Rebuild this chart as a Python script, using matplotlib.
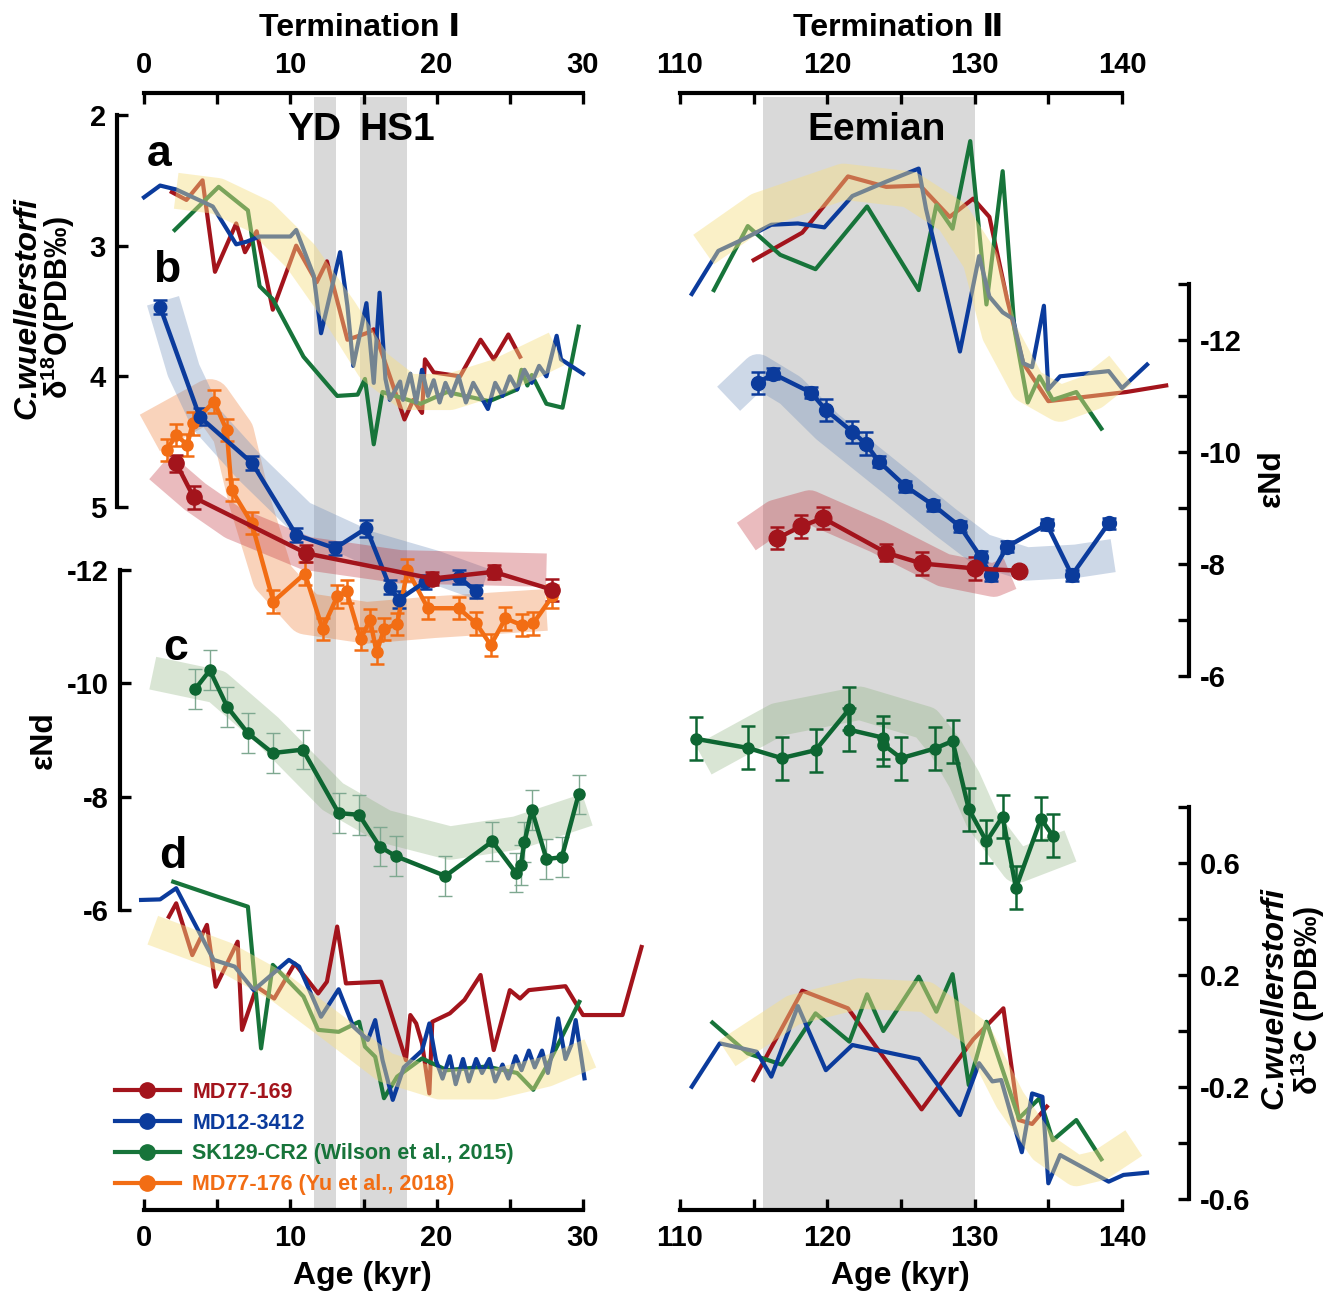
import matplotlib
matplotlib.use('Agg')
import matplotlib.pyplot as plt
from matplotlib.lines import Line2D

plt.rcParams['font.family'] = ['Liberation Sans', 'DejaVu Sans']
plt.rcParams['font.weight'] = 'bold'
plt.rcParams['axes.unicode_minus'] = False
plt.rcParams['mathtext.fontset'] = 'custom'
plt.rcParams['mathtext.rm'] = 'Liberation Sans:bold'
plt.rcParams['mathtext.bf'] = 'Liberation Sans:bold'

# ---------------- data ----------------
# (a) C. wuellerstorfi d18O, Termination I
a169_t1_age = [1.9, 2.9, 4.0, 4.85, 6.3, 6.9, 7.7, 8.8, 10.4, 11.8, 12.5, 13.9, 15.2, 15.7, 16.8,
               17.8, 18.4, 19.0, 19.2, 19.8, 21.6, 23.0, 23.9, 24.9, 25.7]
a169_t1_val = [2.59, 2.65, 2.50, 3.20, 2.83, 3.05, 2.89, 3.49, 3.00, 3.28, 3.12, 3.72, 3.67, 3.64, 4.00,
               4.33, 4.18, 4.28, 3.87, 3.97, 4.00, 3.72, 3.87, 3.68, 3.85]
a3412_t1_age = [0.0, 1.1, 2.2, 4.7, 6.3, 7.0, 7.9, 10.0, 10.4, 11.6, 12.1, 13.4, 13.9, 14.3, 15.2,
                15.7, 16.1, 16.5, 16.8, 17.5, 17.7, 18.2, 18.6, 19.0, 19.4, 19.8, 20.2, 20.6, 21.0,
                21.5, 22.0, 22.5, 23.0, 23.5, 24.0, 24.5, 25.0, 25.5, 26.0, 26.5, 27.0, 27.5, 28.2,
                28.5, 30.0]
a3412_t1_val = [2.63, 2.54, 2.57, 2.70, 2.99, 2.97, 2.93, 2.93, 2.88, 3.23, 3.67, 3.05, 3.46, 3.92, 3.44,
                4.05, 3.36, 4.02, 4.18, 4.04, 4.18, 3.98, 4.20, 3.95, 4.15, 4.03, 4.20, 4.05, 4.15,
                4.00, 4.20, 4.05, 4.15, 4.25, 4.05, 4.15, 4.00, 4.10, 3.95, 4.05, 3.92, 4.00, 3.69,
                3.87, 3.98]
aSK_t1_age = [2.1, 5.1, 7.1, 7.9, 8.8, 10.9, 13.2, 14.6, 15.1, 15.7, 16.3, 18.9, 20.7, 23.6, 25.5,
              25.8, 26.2, 26.5, 27.5, 28.6, 29.7]
aSK_t1_val = [2.88, 2.55, 2.73, 3.31, 3.41, 3.85, 4.15, 4.14, 4.02, 4.52, 4.12, 4.21, 4.12, 4.19, 4.10,
              3.95, 4.07, 3.99, 4.21, 4.24, 3.62]
a_band_t1_age = [2.2, 5.0, 8.0, 10.7, 13.4, 15.7, 18.0, 20.9, 24.3, 28.2]
a_band_t1_val = [2.58, 2.62, 2.78, 3.08, 3.51, 3.92, 4.12, 4.12, 4.00, 3.79]

# (a) Termination II
a169_t2_age = [115.0, 118.3, 121.4, 124.0, 126.3, 128.3, 129.9, 131.0, 132.2, 133.3, 135.0, 140.3, 143.0]
a169_t2_val = [3.11, 2.90, 2.47, 2.55, 2.54, 2.78, 2.64, 2.78, 3.41, 3.90, 4.19, 4.12, 4.07]
a3412_t2_age = [110.8, 112.6, 114.3, 116.2, 118.0, 119.8, 121.7, 124.0, 126.2, 126.7, 129.0, 130.3,
                131.0, 131.9, 132.6, 133.3, 133.9, 134.7, 135.0, 135.8, 139.1, 140.0, 141.7]
a3412_t2_val = [3.37, 3.04, 2.95, 2.84, 2.83, 2.86, 2.62, 2.51, 2.41, 2.72, 3.81, 3.08,
                3.39, 3.51, 3.56, 3.90, 3.93, 3.46, 4.10, 4.00, 3.96, 4.09, 3.91]
aSK_t2_age = [112.3, 114.6, 116.8, 119.2, 122.7, 126.2, 127.4, 128.5, 129.7, 130.8, 131.9, 132.7,
              133.6, 134.4, 135.3, 136.9, 138.6]
aSK_t2_val = [3.34, 2.85, 3.07, 3.18, 2.70, 3.34, 2.69, 2.87, 2.20, 3.45, 2.43, 3.64,
              4.20, 4.00, 4.18, 4.12, 4.40]
a_band_t2_age = [111.6, 115.4, 121.1, 125.6, 128.5, 130.4, 131.7, 133.6, 135.8, 138.0, 139.9]
a_band_t2_val = [3.03, 2.73, 2.51, 2.57, 2.78, 3.11, 3.67, 4.07, 4.21, 4.12, 3.95]

# (b) eNd, MD77-169 / MD12-3412 / MD77-176
b3412_t1_age = [1.1, 3.8, 7.4, 10.4, 13.05, 15.2, 16.8, 17.4, 19.2, 21.5, 22.7]
b3412_t1_val = [-12.59, -10.63, -9.80, -8.52, -8.28, -8.64, -7.59, -7.36, -7.68, -7.77, -7.51]
b3412_t1_err = [0.12, 0.15, 0.12, 0.12, 0.12, 0.15, 0.12, 0.15, 0.12, 0.12, 0.12]
b169_t1_age = [2.2, 3.4, 11.1, 19.7, 23.9, 27.9]
b169_t1_val = [-9.80, -9.19, -8.19, -7.74, -7.86, -7.54]
b169_t1_err = [0.15, 0.2, 0.15, 0.12, 0.12, 0.2]
b176_t1_age = [1.55, 2.2, 2.96, 3.33, 4.78, 5.65, 5.99, 7.36, 8.84, 11.0, 12.2, 13.2, 13.85, 14.8,
               15.45, 15.9, 16.4, 17.3, 18.0, 19.4, 21.5, 22.7, 23.7, 24.7, 25.8, 26.6, 27.9]
b176_t1_val = [-10.04, -10.30, -10.13, -10.51, -10.90, -10.39, -9.32, -8.73, -7.33, -7.83, -6.84,
               -7.42, -7.51, -6.66, -7.00, -6.42, -6.84, -6.93, -7.89, -7.21, -7.21, -6.94, -6.55,
               -7.03, -6.91, -6.94, -7.42]
b176_t1_err = [0.2] * 27
b3412_band_t1_age = [1.3, 2.7, 4.3, 7.2, 10.7, 15.2, 19.8, 23.2]
b3412_band_t1_val = [-12.7, -11.46, -10.57, -9.73, -8.84, -8.30, -7.95, -7.63]
b169_band_t1_age = [1.1, 3.5, 6.1, 11.1, 17.5, 27.5]
b169_band_t1_val = [-9.74, -9.2, -8.73, -8.19, -7.95, -7.89]
b176_band_t1_age = [0.4, 4.5, 6.1, 7.2, 8.8, 11.1, 15.2, 19.8, 27.5]
b176_band_t1_val = [-10.34, -10.93, -10.34, -9.14, -7.77, -7.11, -6.95, -7.05, -7.18]

b3412_t2_age = [115.3, 116.3, 118.9, 119.9, 121.7, 122.6, 123.5, 125.3, 127.2, 129.0, 130.4, 131.1,
                132.2, 134.9, 136.6, 139.1]
b3412_t2_val = [-11.23, -11.40, -11.06, -10.75, -10.36, -10.15, -9.83, -9.39, -9.05, -8.67, -8.13,
                -7.80, -8.31, -8.71, -7.80, -8.73]
b3412_t2_err = [0.2, 0.1, 0.1, 0.2, 0.2, 0.2, 0.1, 0.1, 0.1, 0.1, 0.1, 0.1, 0.1, 0.1, 0.1, 0.1]
b169_t2_age = [116.6, 118.2, 119.7, 124.0, 126.4, 130.0, 133.0]
b169_t2_val = [-8.46, -8.67, -8.82, -8.20, -8.01, -7.92, -7.88]
b169_t2_err = [0.2, 0.2, 0.2, 0.15, 0.2, 0.2, 0.05]
b3412_band_t2_age = [113.3, 115.3, 117.5, 120.0, 124.5, 128.0, 130.5, 133.5, 136.9, 139.4]
b3412_band_t2_val = [-10.95, -11.45, -11.1, -10.45, -9.5, -8.75, -8.25, -8.0, -8.05, -8.15]
b169_band_t2_age = [114.5, 116.5, 118.8, 123.4, 127.9, 131.3, 132.4]
b169_band_t2_val = [-8.49, -8.85, -9.02, -8.49, -7.89, -7.71, -7.83]

# (c) eNd, SK129-CR2 (Wilson et al., 2015)
cSK_t1_age = [3.5, 4.5, 5.7, 7.1, 8.8, 10.85, 13.3, 14.7, 16.1, 17.2, 20.6, 23.8, 25.4, 25.75, 26.0,
              26.5, 27.5, 28.55, 29.7]
cSK_t1_val = [-9.90, -10.23, -9.58, -9.12, -8.77, -8.83, -7.71, -7.68, -7.12, -6.95, -6.60, -7.21,
              -6.66, -6.80, -7.20, -7.77, -6.90, -6.93, -8.04]
cSK_t1_err = [0.35] * 19
c_band_t1_age = [0.6, 5.0, 8.4, 12.9, 16.4, 20.9, 25.5, 30.3]
c_band_t1_val = [-10.18, -9.94, -9.18, -8.0, -7.48, -7.18, -7.36, -7.77]
cSK_t2_age = [111.1, 114.6, 116.9, 119.2, 121.5, 121.5, 123.8, 123.8, 125.0, 127.3, 128.5, 129.6,
              130.8, 131.9, 132.8, 134.5, 135.3]
cSK_t2_val = [-9.02, -8.86, -8.68, -8.82, -9.55, -9.18, -9.04, -8.92, -8.68, -8.85, -8.98, -7.78,
              -7.21, -7.65, -6.39, -7.61, -7.31]
cSK_t2_err = [0.38] * 17
c_band_t2_age = [111.6, 116.6, 122.2, 126.7, 128.0, 129.3, 130.5, 132.9, 136.5]
c_band_t2_val = [-8.65, -9.36, -9.65, -9.30, -8.88, -8.3, -7.6, -6.77, -7.13]

# (d) C. wuellerstorfi d13C
d169_t1_age = [1.7, 2.2, 3.3, 4.3, 4.9, 6.4, 6.7, 7.7, 8.9, 10.3, 11.9, 12.5, 13.2, 13.8, 16.2, 17.9,
               18.2, 18.6, 19.0, 19.5, 19.7, 20.9, 21.9, 23.0, 23.9, 25.0, 25.7, 26.3, 28.8, 30.0,
               32.7, 34.0]
d169_t1_val = [0.408, 0.456, 0.271, 0.379, 0.158, 0.319, 0.004, 0.158, 0.116, 0.241, 0.134, 0.176,
               0.373, 0.17, 0.176, -0.104, 0.057, 0.027, -0.044, -0.223, 0.033, 0.063, 0.111, 0.2,
               -0.068, 0.146, 0.116, 0.146, 0.16, 0.057, 0.057, 0.30]
d3412_t1_age = [-0.2, 1.1, 2.2, 4.76, 6.2, 7.5, 9.9, 10.6, 12.1, 13.3, 14.3, 15.3, 15.8, 16.3, 17.0,
                17.75, 19.0, 19.5, 19.95, 20.4, 20.9, 21.3, 21.8, 22.2, 22.7, 23.1, 23.6, 24.0, 24.5,
                24.9, 25.4, 25.8, 26.3, 26.7, 27.2, 27.6, 28.0, 28.3, 28.8, 29.2, 29.5, 30.1]
d3412_t1_val = [0.468, 0.47, 0.51, 0.254, 0.23, 0.146, 0.254, 0.23, 0.051, 0.149, 0.016, -0.032,
                0.039, -0.104, -0.246, -0.13, -0.07, 0.027, -0.104, -0.17, -0.09, -0.19, -0.1,
                -0.18, -0.1, -0.15, -0.1, -0.18, -0.12, -0.17, -0.09, -0.14, -0.07, -0.13, -0.07,
                -0.15, -0.05, 0.045, -0.1, -0.05, 0.039, -0.169]
dSK_t1_age = [2.0, 5.0, 7.1, 8.0, 8.8, 10.9, 11.9, 13.3, 14.7, 15.1, 15.8, 16.4, 17.3, 19.0, 20.7,
              23.4, 25.5, 26.6, 27.8, 29.75]
dSK_t1_val = [0.533, 0.48, 0.444, -0.062, 0.236, 0.123, 0.004, -0.003, 0.033, -0.056, -0.092, -0.24,
              -0.163, -0.098, -0.14, -0.127, -0.15, -0.21, -0.1, 0.104]
d_band_t1_age = [0.6, 5.5, 9.2, 12.85, 16.5, 20.2, 23.9, 27.5, 30.5]
d_band_t1_val = [0.36, 0.265, 0.158, 0.015, -0.13, -0.19, -0.19, -0.145, -0.08]

d169_t2_age = [115.0, 118.3, 121.4, 126.4, 129.9, 131.95, 133.0, 133.9, 134.9]
d169_t2_val = [-0.175, 0.144, 0.081, -0.28, -0.03, 0.081, -0.318, -0.332, -0.27]
d3412_t2_age = [110.8, 112.7, 115.2, 116.2, 118.0, 119.9, 121.7, 126.2, 129.0, 130.3, 131.2, 131.8,
                133.2, 133.9, 134.6, 135.0, 135.8, 139.1, 140.1, 141.7]
d3412_t2_val = [-0.199, -0.044, -0.074, -0.163, 0.089, -0.14, -0.05, -0.10, -0.30, -0.115, -0.18,
                -0.175, -0.433, -0.223, -0.235, -0.544, -0.443, -0.538, -0.514, -0.506]
dSK_t2_age = [112.2, 114.6, 116.9, 119.2, 121.5, 122.7, 123.8, 126.2, 127.4, 128.5, 129.6, 130.8,
              133.0, 134.4, 135.3, 136.9, 138.6]
dSK_t2_val = [0.03, -0.08, -0.12, 0.063, -0.038, 0.131, 0.0, 0.194, 0.069, 0.203, -0.193, 0.033,
              -0.312, -0.24, -0.39, -0.318, -0.458]
d_band_t2_age = [113.2, 117.7, 122.2, 126.7, 130.1, 132.4, 134.7, 136.9, 138.5, 140.8]
d_band_t2_val = [-0.08, 0.075, 0.134, 0.122, -0.008, -0.246, -0.42, -0.50, -0.48, -0.40]

events = {'YD': (11.6, 13.1), 'HS1': (14.75, 18.0), 'Eemian': (115.6, 130.0)}
legend_labels = ['MD77-169', 'MD12-3412', 'SK129-CR2 (Wilson et al., 2015)', 'MD77-176 (Yu et al., 2018)']

RED, BLUE, GREEN, ORANGE = '#a3141c', '#0b3b9c', '#17743a', '#f26d14'
DKGREEN = '#0e6632'
legend_colors = [RED, BLUE, GREEN, ORANGE]

# ---------------- layout helpers (pixel calibration) ----------------
W, H = 1337, 1297
fig = plt.figure(figsize=(W / 100, H / 100), dpi=100)
PY_TOP, PY_BOT = 20, 1275

XL = (144, 0, 583, 30)
XR = (680, 110, 1122, 140)
Y18 = (115, 2, 507, 5)
YNB = (340, -12, 676, -6)
YNC = (570, -12, 910, -6)
Y13 = (863, 0.6, 1199, -0.6)


def lin(p, cal):
    p0, v0, p1, v1 = cal
    return v0 + (p - p0) * (v1 - v0) / (p1 - p0)


def panel_ax(px0, px1, xcal, ycal):
    ax = fig.add_axes([px0 / W, 1 - PY_BOT / H, (px1 - px0) / W, (PY_BOT - PY_TOP) / H])
    ax.set_xlim(lin(px0, xcal), lin(px1, xcal))
    ax.set_ylim(lin(PY_BOT, ycal), lin(PY_TOP, ycal))
    ax.patch.set_visible(False)
    for s in ax.spines.values():
        s.set_visible(False)
    ax.tick_params(which='both', left=False, right=False, top=False, bottom=False,
                   labelleft=False, labelright=False, labeltop=False, labelbottom=False,
                   direction='in', length=8, width=2.4, labelsize=21, pad=8)
    return ax


axs = {}
for side, px0, px1, xcal in [('L', 95, 665, XL), ('R', 665, 1200, XR)]:
    for key, ycal in [('a', Y18), ('b', YNB), ('c', YNC), ('d', Y13)]:
        axs[key + side] = panel_ax(px0, px1, xcal, ycal)


def spine(ax, which, pos, lo, hi, ticks, labels):
    sp = ax.spines[which]
    sp.set_visible(True)
    sp.set_linewidth(3)
    sp.set_position(('data', pos))
    sp.set_bounds(lo, hi)
    sp.set_capstyle('projecting')
    if which in ('left', 'right'):
        ax.set_yticks(ticks)
        ax.set_yticklabels(labels)
        ax.tick_params(axis='y', **{which: True, 'label' + which: True})
    else:
        ax.set_xticks(ticks)
        ax.set_xticklabels(labels)
        ax.tick_params(axis='x', pad=10, **{which: True, 'label' + which: True})


t1_ticks = [0, 5, 10, 15, 20, 25, 30]
t1_labels = ['0', '', '10', '', '20', '', '30']
t2_ticks = [110, 115, 120, 125, 130, 135, 140]
t2_labels = ['110', '', '120', '', '130', '', '140']
spine(axs['aL'], 'top', lin(93, Y18), 0, 30, t1_ticks, t1_labels)
spine(axs['aR'], 'top', lin(93, Y18), 110, 140, t2_ticks, t2_labels)
spine(axs['dL'], 'bottom', lin(1210, Y13), 0, 30, t1_ticks, t1_labels)
spine(axs['dR'], 'bottom', lin(1210, Y13), 110, 140, t2_ticks, t2_labels)
spine(axs['aL'], 'left', lin(117, XL), 2, 5, [2, 3, 4, 5], ['2', '3', '4', '5'])
spine(axs['cL'], 'left', lin(120, XL), -12, -6, [-12, -10, -8, -6], ['-12', '-10', '-8', '-6'])
spine(axs['bR'], 'right', lin(1189, XR), -13, -6, list(range(-13, -5)),
      ['', '-12', '', '-10', '', '-8', '', '-6'])
spine(axs['dR'], 'right', lin(1189, XR), -0.6, 0.8, [-0.6, -0.4, -0.2, 0.0, 0.2, 0.4, 0.6, 0.8],
      ['-0.6', '', '-0.2', '', '0.2', '', '0.6', ''])

# event shading
for name, (x0, x1) in events.items():
    ax = axs['aL'] if x1 < 60 else axs['aR']
    ax.fill_between([x0, x1], lin(97, Y18), lin(1208, Y18), color='#d9d9d9', lw=0, zorder=0)


def band(ax, age, val, color, alpha, width, z):
    ax.plot(age, val, color=color, alpha=alpha, lw=width, solid_capstyle='butt',
            solid_joinstyle='round', zorder=z)


# (a)
for side, sets in [('L', [(a169_t1_age, a169_t1_val, RED), (aSK_t1_age, aSK_t1_val, GREEN),
                          (a3412_t1_age, a3412_t1_val, BLUE)]),
                   ('R', [(a169_t2_age, a169_t2_val, RED), (aSK_t2_age, aSK_t2_val, GREEN),
                          (a3412_t2_age, a3412_t2_val, BLUE)])]:
    for age, val, c in sets:
        axs['a' + side].plot(age, val, color=c, lw=3, zorder=2)
band(axs['aL'], a_band_t1_age, a_band_t1_val, '#f6df84', 0.45, 26, 3)
band(axs['aR'], a_band_t2_age, a_band_t2_val, '#f6df84', 0.45, 26, 3)

# (b)
band(axs['bL'], b176_band_t1_age, b176_band_t1_val, '#eb620c', 0.28, 30, 1)
band(axs['bL'], b3412_band_t1_age, b3412_band_t1_val, '#7090bd', 0.35, 24, 1)
band(axs['bL'], b169_band_t1_age, b169_band_t1_val, '#c0313a', 0.33, 24, 1)
band(axs['bR'], b3412_band_t2_age, b3412_band_t2_val, '#7090bd', 0.35, 24, 1)
band(axs['bR'], b169_band_t2_age, b169_band_t2_val, '#c0313a', 0.33, 24, 1)
eb = dict(lw=3.2, marker='o', capsize=5, elinewidth=1.8, capthick=1.8, zorder=3)
axs['bL'].errorbar(b176_t1_age, b176_t1_val, yerr=b176_t1_err, color=ORANGE, ms=8, **eb)
axs['bL'].errorbar(b3412_t1_age, b3412_t1_val, yerr=b3412_t1_err, color=BLUE, ms=9, **eb)
axs['bL'].errorbar(b169_t1_age, b169_t1_val, yerr=b169_t1_err, color=RED, ms=11, **eb)
axs['bR'].errorbar(b3412_t2_age, b3412_t2_val, yerr=b3412_t2_err, color=BLUE, ms=10, **eb)
axs['bR'].errorbar(b169_t2_age, b169_t2_val, yerr=b169_t2_err, color=RED, ms=12, **eb)

# (c)
band(axs['cL'], c_band_t1_age, c_band_t1_val, '#8db27e', 0.33, 24, 1)
band(axs['cR'], c_band_t2_age, c_band_t2_val, '#8db27e', 0.33, 24, 1)
axs['cL'].errorbar(cSK_t1_age, cSK_t1_val, yerr=cSK_t1_err, fmt='none', ecolor='#7ea890',
                   elinewidth=1.0, capsize=5, capthick=1.0, zorder=2)
axs['cL'].plot(cSK_t1_age, cSK_t1_val, color=DKGREEN, lw=3.2, marker='o', ms=8, zorder=3)
axs['cR'].errorbar(cSK_t2_age, cSK_t2_val, yerr=cSK_t2_err, color=DKGREEN, ms=8, **eb)

# (d)
for side, sets in [('L', [(d169_t1_age, d169_t1_val, RED), (dSK_t1_age, dSK_t1_val, GREEN),
                          (d3412_t1_age, d3412_t1_val, BLUE)]),
                   ('R', [(d169_t2_age, d169_t2_val, RED), (dSK_t2_age, dSK_t2_val, GREEN),
                          (d3412_t2_age, d3412_t2_val, BLUE)])]:
    for age, val, c in sets:
        axs['d' + side].plot(age, val, color=c, lw=3, zorder=2)
band(axs['dL'], d_band_t1_age, d_band_t1_val, '#f6df84', 0.45, 22, 3)
band(axs['dR'], d_band_t2_age, d_band_t2_val, '#f6df84', 0.45, 22, 3)


# ---------------- text ----------------
def ftext(px, py, s, **kw):
    fig.text(px / W, 1 - py / H, s, ha='center', va='center', **kw)


ftext(360, 28, 'Termination \u2160', fontsize=23)
ftext(898, 28, 'Termination \u2161', fontsize=23)
ftext(314, 130, 'YD', fontsize=28)
ftext(397, 130, 'HS1', fontsize=28)
ftext(877, 130, 'Eemian', fontsize=28)
for letter, px, py in [('a', 159, 154), ('b', 167, 270), ('c', 176, 648), ('d', 173, 857)]:
    ftext(px, py, letter, fontsize=32)
ftext(27, 308, 'C.wuellerstorfi', fontsize=23, rotation=90, style='italic')
ftext(58, 308, '\u03b4$^{18}$O(PDB\u2030)', fontsize=22, rotation=90)
ftext(44, 740, '\u03b5Nd', fontsize=23, rotation=90)
ftext(1272, 478, '\u03b5Nd', fontsize=23, rotation=90)
ftext(1274, 998, 'C.wuellerstorfi', fontsize=23, rotation=90, style='italic')
ftext(1308, 1000, '\u03b4$^{13}$C (PDB\u2030)', fontsize=22, rotation=90)
ftext(362, 1276, 'Age (kyr)', fontsize=23)
ftext(900, 1276, 'Age (kyr)', fontsize=23)

handles = [Line2D([], [], color=c, lw=3, marker='o', ms=11) for c in legend_colors]
leg = axs['dL'].legend(handles, legend_labels, loc='upper left',
                       bbox_to_anchor=(115 / W, 1 - 1082 / H), bbox_transform=fig.transFigure,
                       frameon=False, fontsize=15.5, handlelength=3.0, handletextpad=0.6,
                       labelspacing=0.45, borderpad=0, borderaxespad=0)
for t, c in zip(leg.get_texts(), legend_colors):
    t.set_color(c)

fig.savefig('out.png', dpi=100)
